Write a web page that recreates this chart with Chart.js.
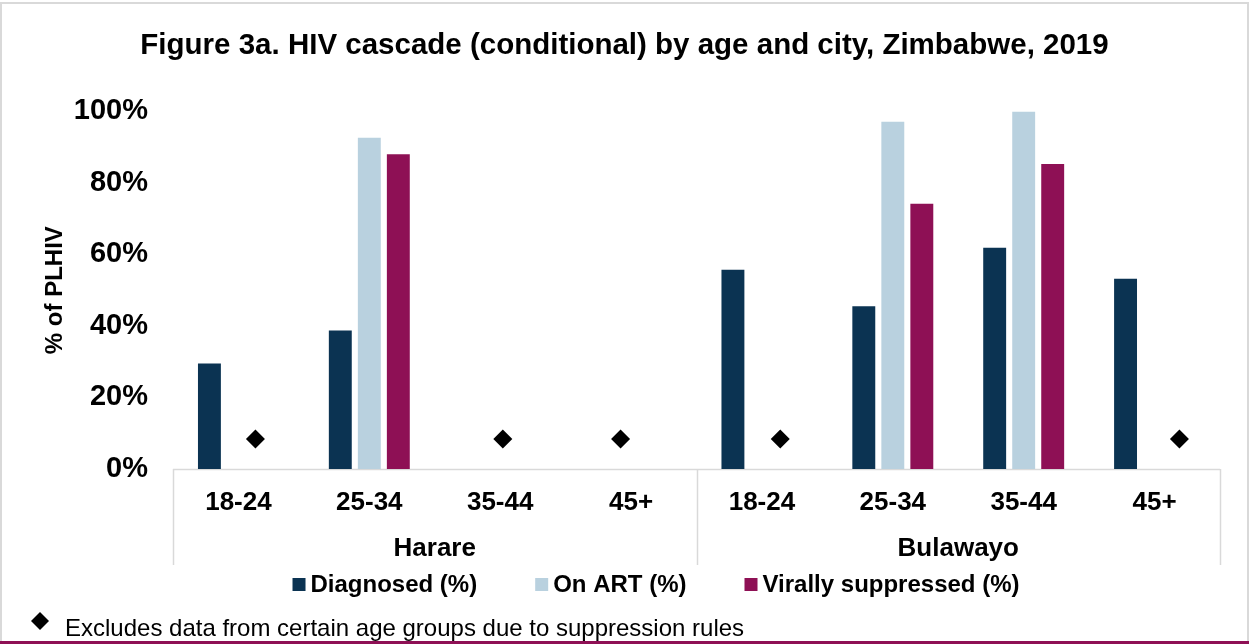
<!DOCTYPE html>
<html lang="en">
<head>
<meta charset="UTF-8">
<title>HIV cascade by age and city, Zimbabwe, 2019</title>
<style>
  html, body { margin: 0; padding: 0; background: #fff; }
  #wrap { width: 1249px; height: 644px; position: relative; }
</style>
</head>
<body>
<div id="wrap"><canvas id="cascade"></canvas></div>
<script src="https://cdn.jsdelivr.net/npm/chart.js@4.4.0/dist/chart.umd.min.js"></script>
<script>
// values (% of PLHIV)
const ageGroups = ['18-24', '25-34', '35-44', '45+', '18-24', '25-34', '35-44', '45+'];
const cities = ['Harare', 'Bulawayo'];
const diagnosed = [29.5, 38.7, null, null, 55.7, 45.5, 61.9, 53.2];
const onArt = [null, 92.6, null, null, null, 97.1, 100, null];
const suppressed = [null, 88.0, null, null, null, 74.2, 85.3, null];
// diamonds: place along the age axis (0 = first group) and height
const excludedAt = [0.13, 2.02, 2.92, 4.14, 7.19];
const excludedLevel = 8.4;
const yTicks = [0, 20, 40, 60, 80, 100];

const seriesNames = ['Diagnosed (%)', 'On ART (%)', 'Virally suppressed (%)'];
const colours = ['#0b3352', '#b9d1df', '#8e1055'];
const footnote = 'Excludes data from certain age groups due to suppression rules';

Chart.defaults.font.family = '"Liberation Sans", Arial, sans-serif';
Chart.defaults.color = '#000';

function diamond(ctx, x, y, r) {
  ctx.beginPath();
  ctx.moveTo(x, y - r);
  ctx.lineTo(x + r, y);
  ctx.lineTo(x, y + r);
  ctx.lineTo(x - r, y);
  ctx.closePath();
  ctx.fill();
}

const extras = {
  id: 'extras',
  beforeDraw(chart) {
    const ctx = chart.ctx;
    ctx.save();
    ctx.fillStyle = '#fff';
    ctx.fillRect(0, 0, chart.width, chart.height);
    ctx.strokeStyle = '#d9d9d9';
    ctx.lineWidth = 2;
    ctx.strokeRect(1, 3, chart.width - 2, chart.height - 5);
    ctx.fillStyle = '#8e1055';
    ctx.fillRect(0, chart.height - 3, chart.width, 3);
    ctx.restore();
  },
  beforeDatasetsDraw(chart) {
    const {ctx, chartArea: a, scales: {x}} = chart;
    const half = (x.getPixelForValue(1) - x.getPixelForValue(0)) / 2;
    const mid = x.getPixelForValue(3) + half;
    const lower = a.bottom + 96;
    ctx.save();
    ctx.strokeStyle = '#d9d9d9';
    ctx.lineWidth = 1.5;
    ctx.beginPath();
    ctx.moveTo(a.left, a.bottom + 0.5);
    ctx.lineTo(a.right, a.bottom + 0.5);
    [a.left, mid, a.right].forEach(px => {
      ctx.moveTo(Math.round(px) + 0.5, a.bottom);
      ctx.lineTo(Math.round(px) + 0.5, lower);
    });
    ctx.stroke();
    ctx.restore();
  },
  afterDraw(chart) {
    const {ctx, chartArea: a, scales: {x}} = chart;
    const half = (x.getPixelForValue(1) - x.getPixelForValue(0)) / 2;
    const mid = x.getPixelForValue(3) + half;
    ctx.save();
    ctx.fillStyle = '#000';
    ctx.textBaseline = 'middle';

    // city labels
    ctx.font = 'bold 26px "Liberation Sans", Arial, sans-serif';
    ctx.textAlign = 'center';
    ctx.fillText(cities[0], (a.left + mid) / 2, a.bottom + 80);
    ctx.fillText(cities[1], (mid + a.right) / 2, a.bottom + 80);

    // legend
    ctx.font = 'bold 24px "Liberation Sans", Arial, sans-serif';
    ctx.textAlign = 'left';
    const box = 13, gapIn = 5, gapOut = 58;
    const widths = seriesNames.map(s => ctx.measureText(s).width);
    const total = widths.reduce((s, w) => s + w + box + gapIn, 0) + gapOut * (seriesNames.length - 1);
    let lx = 656 - total / 2;
    const ly = a.bottom + 115;
    seriesNames.forEach((s, i) => {
      ctx.fillStyle = colours[i];
      ctx.fillRect(lx, ly - 6, box, box);
      ctx.fillStyle = '#000';
      ctx.fillText(s, lx + box + gapIn, ly + 1);
      lx += box + gapIn + widths[i] + gapOut;
    });

    // footnote
    diamond(ctx, 40, chart.height - 23, 9);
    ctx.font = '24px "Liberation Sans", Arial, sans-serif';
    ctx.fillText(footnote, 65, chart.height - 15);
    ctx.restore();
  }
};

new Chart(document.getElementById('cascade'), {
  type: 'bar',
  data: {
    labels: ageGroups,
    datasets: [
      { label: seriesNames[0], data: diagnosed, backgroundColor: colours[0] },
      { label: seriesNames[1], data: onArt, backgroundColor: colours[1] },
      { label: seriesNames[2], data: suppressed, backgroundColor: colours[2] },
      {
        type: 'scatter', label: 'Excluded',
        // parsing off so the fractional positions along the category axis are kept
        parsing: false,
        data: excludedAt.map(v => ({ x: v, y: excludedLevel })),
        pointStyle: 'rectRot', pointRadius: 9.5, borderWidth: 0,
        backgroundColor: '#000', borderColor: '#000'
      }
    ]
  },
  options: {
    responsive: true,
    maintainAspectRatio: false,
    devicePixelRatio: 1,
    animation: false,
    layout: { padding: 0 },
    categoryPercentage: 0.665,
    barPercentage: 0.79,
    plugins: {
      legend: { display: false },
      tooltip: { enabled: false },
      title: {
        display: true,
        text: 'Figure 3a. HIV cascade (conditional) by age and city, Zimbabwe, 2019',
        font: { size: 29.5, weight: 'bold' },
        color: '#000',
        padding: { top: 28, bottom: 48 }
      }
    },
    scales: {
      x: {
        type: 'category',
        min: 0, max: 7,
        grid: { display: false },
        border: { display: false },
        ticks: { font: { size: 26, weight: 'bold' }, color: '#000', padding: 10, autoSkip: false, maxRotation: 0 },
        afterFit: s => { s.height = 175; }
      },
      y: {
        type: 'linear',
        min: 0, max: 100,
        grid: { display: false },
        border: { display: false },
        afterBuildTicks: s => { s.ticks = yTicks.map(v => ({ value: v })); },
        ticks: { font: { size: 29, weight: 'bold' }, color: '#000', padding: 17, callback: v => v + '%' },
        title: { display: true, text: '% of PLHIV', font: { size: 24, weight: 'bold' }, color: '#000', padding: { top: 41 } },
        afterFit: s => { s.width = 173; }
      },
      yr: {
        type: 'linear',
        position: 'right',
        grid: { display: false },
        border: { display: false },
        ticks: { display: false },
        afterFit: s => { s.width = 29; }
      }
    }
  },
  plugins: [extras]
});
</script>
</body>
</html>
